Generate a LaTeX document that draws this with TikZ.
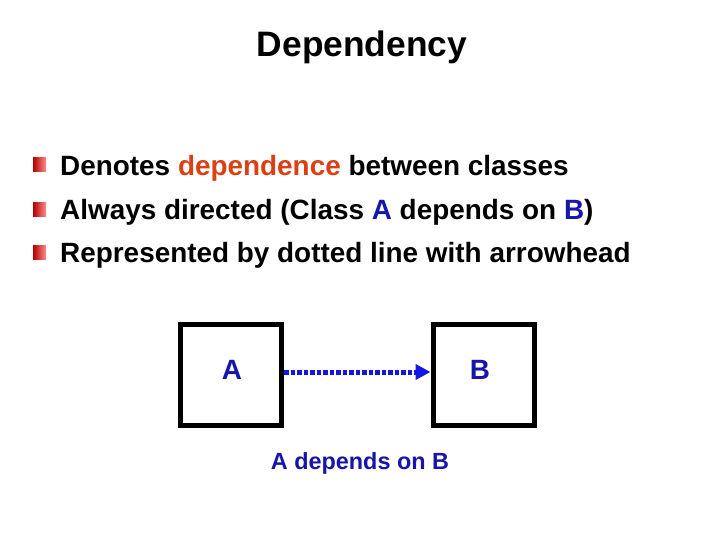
\documentclass[tikz,border=0pt]{standalone}
\usepackage{fontspec}
\setmainfont{Liberation Sans}
\usetikzlibrary{arrows.meta}
\definecolor{deporange}{RGB}{218,64,20}
\definecolor{classblue}{RGB}{22,22,170}
\definecolor{arrowblue}{RGB}{20,20,230}
\begin{document}
\begin{tikzpicture}[x=1bp,y=-1bp,
  titletext/.style={font=\fontsize{35.5}{40}\selectfont\bfseries, inner sep=0pt},
  bullettext/.style={font=\fontsize{28}{32}\selectfont\bfseries, anchor=base west, inner sep=0pt},
  bulletmark/.style={minimum width=13bp, minimum height=14bp, inner sep=0pt,
    left color=red!70!black, right color=red!45!white, shading angle=90},
  classbox/.style={draw=black, line width=5bp, minimum width=101bp, minimum height=101bp, inner sep=0pt, fill=white},
  classlabel/.style={font=\fontsize{28}{32}\selectfont\bfseries, text=classblue, inner sep=0pt},
  deparrow/.style={draw=arrowblue, line width=5bp, dash pattern=on 4.5bp off 2bp,
    -{Triangle[length=15bp,width=15bp]}},
  captiontext/.style={font=\fontsize{23.5}{28}\selectfont\bfseries, text=classblue, inner sep=0pt}]
\useasboundingbox[fill=white] (0,0) rectangle (720,540);

\node[titletext, anchor=base] (title) at (362,57) {Dependency};

\node[bulletmark] (b1) at (39.5,165) {};
\node[bulletmark] (b2) at (39.5,209.5) {};
\node[bulletmark] (b3) at (39.5,252.5) {};

\node[bullettext] (t1) at (60,176) {Denotes \textcolor{deporange}{dependence} between classes};
\node[bullettext] (t2) at (60,220) {Always directed (Class \textcolor{classblue}{A} depends on \textcolor{classblue}{B})};
\node[bullettext] (t3) at (60,263) {Represented by dotted line with arrowhead};

\node[classbox] (boxA) at (231,375) {};
\node[classbox] (boxB) at (483.5,375) {};
\node[classlabel] (labA) at (232,370) {A};
\node[classlabel] (labB) at (480,370) {B};

\draw[deparrow] ([yshift=3bp]boxA.east) -- ([yshift=3bp]boxB.west);

\node[captiontext] (cap) at (360,463) {A depends on B};
\end{tikzpicture}
\end{document}
